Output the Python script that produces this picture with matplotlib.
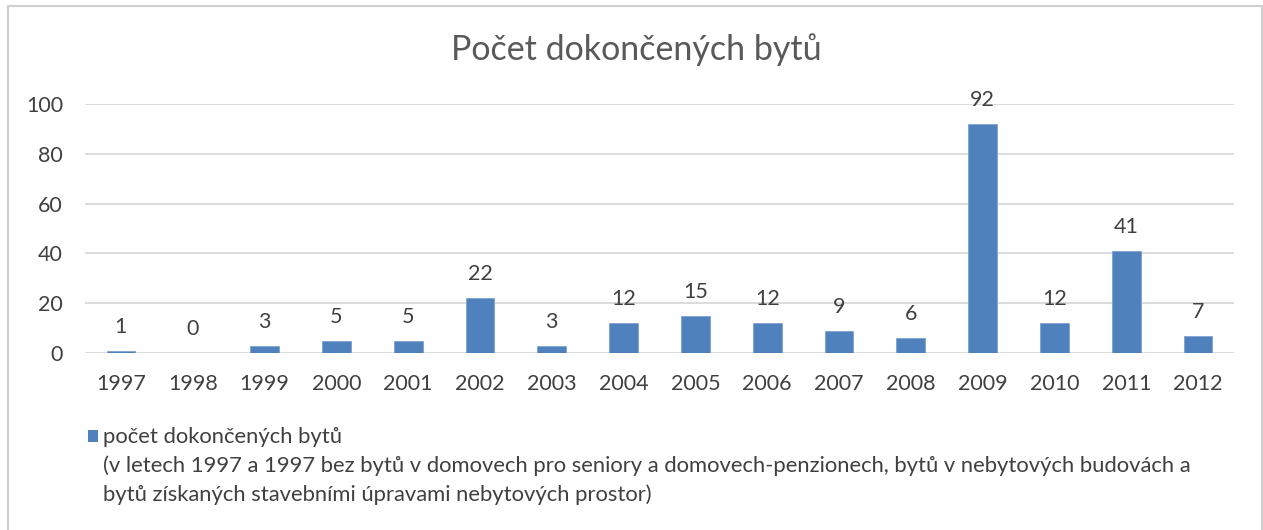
import matplotlib
matplotlib.use("Agg")
import matplotlib.pyplot as plt
from matplotlib.patches import Rectangle

years = ["1997", "1998", "1999", "2000", "2001", "2002", "2003", "2004",
         "2005", "2006", "2007", "2008", "2009", "2010", "2011", "2012"]
values = [1, 0, 3, 5, 5, 22, 3, 12, 15, 12, 9, 6, 92, 12, 41, 7]
yticks = [0, 20, 40, 60, 80, 100]
title = "Počet dokončených bytů"
legend_label = "počet dokončených bytů"
note_lines = ["(v letech 1997 a 1997 bez bytů v domovech pro seniory a domovech-penzionech, bytů v nebytových budovách a",
              "bytů získaných stavebními úpravami nebytových prostor)"]

plt.rcParams['font.family'] = ['Lato', 'DejaVu Sans']
W, H = 1263, 530
fig = plt.figure(figsize=(W / 100, H / 100), dpi=100)
PX = 72 / 100  # points per pixel

def fx(x):
    return x / W

def fy(y):
    return 1 - y / H

# outer frame
fig.patches.append(Rectangle((fx(8), fy(560)), fx(1262) - fx(8), fy(6) - fy(560),
                             transform=fig.transFigure, fill=False,
                             edgecolor="#D0D0D0", linewidth=1.5))

ax = fig.add_axes([fx(85), fy(353), fx(1234) - fx(85), fy(104) - fy(353)])
x = list(range(len(years)))
bar_color = "#4F81BD"
bars = ax.bar(x, values, width=0.4, color=bar_color, edgecolor="#7FA3D3",
              linewidth=0.6, zorder=3)
ax.set_xlim(-0.5, len(years) - 0.5)
ax.set_ylim(0, 100)
ax.set_yticks(yticks)
ax.set_xticks(x)
ax.set_xticklabels(years)
ax.grid(axis="y", color="#D9D9D9", linewidth=1.3, zorder=0)
ax.set_axisbelow(True)
for s in ax.spines.values():
    s.set_visible(False)
ax.tick_params(axis="both", length=0, labelsize=15.5, labelcolor="#404040")
ax.tick_params(axis="y", pad=22 * PX)
ax.tick_params(axis="x", pad=21 * PX)

for xi, v in zip(x, values):
    ax.annotate(str(v), (xi, v), xytext=(0, 14), textcoords="offset pixels",
                ha="center", va="bottom", fontsize=15.5, color="#404040")

fig.text(fx(636), fy(50), title, ha="center", va="center", fontsize=24.5,
         color="#595959")

# legend
fig.patches.append(Rectangle((fx(88), fy(442)), fx(98) - fx(88), fy(430) - fy(442),
                             transform=fig.transFigure, facecolor=bar_color,
                             edgecolor="none"))
fig.text(fx(103), fy(437), legend_label, ha="left", va="center", fontsize=15.8,
         color="#404040")
for i, line in enumerate(note_lines):
    fig.text(fx(103), fy(466 + 28.5 * i), line, ha="left", va="center",
             fontsize=15.8, color="#404040")

fig.savefig("out.png", dpi=100)
